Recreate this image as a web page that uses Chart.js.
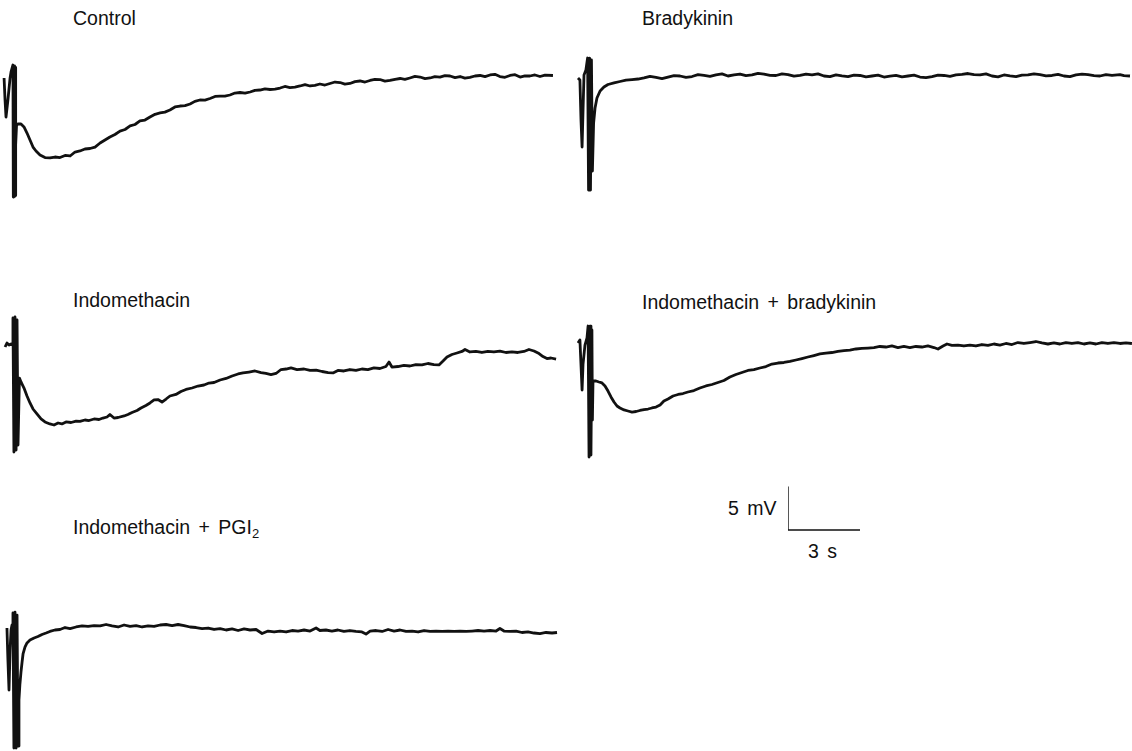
<!DOCTYPE html>
<html>
<head>
<meta charset="utf-8">
<script src="https://cdn.jsdelivr.net/npm/chart.js@4/dist/chart.umd.min.js"></script>
<style>
  body { margin: 0; background: #fff; width: 1132px; height: 751px; overflow: hidden; position: relative;
         font-family: "Liberation Sans", Arial, Helvetica, sans-serif; }
  canvas { position: absolute; }
  .label { position: absolute; font-size: 19.5px; color: #111; white-space: pre; line-height: 22px; word-spacing: 3px; }
  .label sub { font-size: 13px; vertical-align: -4px; line-height: 0; }
</style>
</head>
<body>
<div class="label" style="left:73px;top:7px">Control</div>
<div class="label" style="left:642px;top:7px">Bradykinin</div>
<div class="label" style="left:73px;top:289px">Indomethacin</div>
<div class="label" style="left:642px;top:291px">Indomethacin + bradykinin</div>
<div class="label" style="left:73px;top:516px">Indomethacin + PGI<sub>2</sub></div>
<div class="label" style="left:728px;top:497px">5 mV</div>
<div class="label" style="left:808px;top:540px">3 s</div>

<script>
// time in s, membrane potential in mV (relative to the resting level of each record)
var controlTime = [0.17,0.21,0.25,0.33,0.42,0.46,0.54,0.555,0.57,0.585,0.60,0.615,0.63,0.645,0.66,0.69,0.75,0.875,1.0,1.125,1.25,
  1.375,1.5,1.667,1.875,2.083,2.29,2.5,2.71,2.92,3.125,3.33,3.54,3.75,3.96,4.17,4.375,4.58,4.79,5.0,5.21,5.42,5.625,5.83,6.04,
  6.25,6.46,6.67,6.87,7.08,7.29,7.5,7.71,7.92,8.12,8.33,8.54,8.75,8.96,9.17,9.37,9.58,9.79,10.0,10.21,10.42,10.62,10.83,
  11.04,11.25,11.46,11.67,11.87,12.08,12.29,12.5,12.71,12.92,13.12,13.33,13.54,13.75,13.96,14.17,14.37,14.58,14.79,15.0,
  15.21,15.42,15.62,15.83,16.04,16.25,16.46,16.67,16.87,17.08,17.29,17.5,17.71,17.92,18.12,18.33,18.54,18.75,18.96,19.17,
  19.37,19.58,19.79,20.0,20.21,20.42,20.62,20.83,21.04,21.25,21.46,21.67,21.87,22.08,22.29,22.5,22.71,23.04];
var controlMv = [-0.23,-2.79,-4.77,-2.79,-0.23,0.47,1.28,-14.07,1.20,-14.0,1.16,-13.95,1.0,-13.9,-8.0,-5.70,-5.58,-5.58,-5.93,-6.63,-7.44,
  -8.26,-8.72,-9.19,-9.48,-9.53,-9.42,-9.48,-9.24,-9.30,-8.84,-8.72,-8.49,-8.43,-8.26,-7.79,-7.44,-7.09,-6.80,-6.40,-6.22,-5.81,-5.64,-5.23,-5.12,
  -4.77,-4.45,-4.30,-4.20,-3.95,-3.60,-3.49,-3.45,-3.26,-2.95,-2.79,-2.80,-2.62,-2.38,-2.33,-2.35,-2.21,-1.98,-1.92,-2.00,-1.86,-1.68,-1.63,
  -1.50,-1.57,-1.52,-1.40,-1.22,-1.34,-1.30,-1.16,-1.00,-1.16,-1.10,-0.93,-1.05,-0.87,-0.70,-0.76,-0.95,-0.87,-0.65,-0.58,
  -0.70,-0.52,-0.40,-0.41,-0.60,-0.52,-0.38,-0.29,-0.40,-0.23,-0.05,-0.12,-0.30,-0.23,-0.08,-0.12,0.05,0,-0.18,-0.06,
  -0.25,-0.17,0,0.06,-0.08,0.12,0.20,-0.06,-0.15,0.06,0.15,-0.12,0.02,0,0.12,-0.06,0.10,0.06];

var bradykininTime = [0.25,0.33,0.375,0.42,0.46,0.5,0.58,0.65,0.69,0.73,0.77,0.81,0.85,0.9,0.96,1.04,1.17,1.33,1.5,1.75,2.0,2.25,2.5,2.75,
  3.0,3.25,3.5,3.75,4.0,4.25,4.5,4.75,5.0,5.25,5.5,5.75,6.0,6.25,6.5,6.75,7.0,7.25,7.5,7.75,8.0,8.25,8.5,8.75,9.0,9.25,9.5,
  9.75,10.0,10.25,10.5,10.75,11.0,11.25,11.5,11.75,12.0,12.25,12.5,12.75,13.0,13.25,13.5,13.75,14.0,14.25,14.5,14.75,15.0,
  15.25,15.5,15.75,16.0,16.25,16.5,16.75,17.0,17.25,17.5,17.75,18.0,18.25,18.5,18.75,19.0,19.25,19.5,19.75,20.0,20.25,
  20.5,20.75,21.0,21.25,21.5,21.75,22.0,22.25,22.5,22.83,23.0,23.25];
var bradykininMv = [-0.23,-0.47,-5.10,-8.26,-3.95,0.12,0.70,2.09,-13.26,2.09,-13.26,1.86,-11.05,-5.47,-3.72,-2.56,-1.74,-1.28,-0.99,-0.81,-0.64,-0.47,-0.41,-0.35,
  -0.23,-0.05,-0.17,-0.30,-0.12,0.05,0,-0.15,-0.06,0.15,0.06,-0.05,0.12,0.25,0,0.12,0.23,0.05,0.12,0.30,0.23,0.08,0.06,0.25,0.17,-0.02,0.06,
  0.22,0.12,0.25,0,-0.08,0.12,0.02,-0.06,0.10,0.06,-0.10,0,0.10,-0.12,-0.02,0.06,-0.10,0,0.10,-0.12,-0.20,-0.06,
  0.10,0.06,-0.05,0.12,0.18,0.29,0.15,0.12,0.25,0,-0.10,0.12,0.02,-0.06,0.10,0.12,0.25,0.17,0.02,0.06,0.18,
  0,-0.08,0.12,0.22,0.17,0.05,0,0.15,0.06,0.17,0.05,0];

var indoTime = [0.21,0.29,0.375,0.46,0.52,0.54,0.58,0.625,0.67,0.71,0.75,0.81,0.875,1.0,1.125,1.25,1.375,1.54,1.71,1.875,2.08,2.25,
  2.42,2.58,2.75,2.96,3.17,3.33,3.54,3.71,3.92,4.125,4.29,4.46,4.58,4.75,4.92,5.17,5.33,5.5,5.71,5.875,6.08,6.25,6.42,6.58,
  6.75,6.92,7.08,7.33,7.54,7.75,8.0,8.25,8.5,8.71,8.92,9.17,9.42,9.67,9.92,10.125,10.375,10.625,10.875,11.08,11.29,11.5,
  11.71,11.92,12.125,12.375,12.67,12.92,13.17,13.42,13.67,13.875,14.08,14.33,14.58,14.83,15.08,15.33,15.58,15.83,16.08,
  16.21,16.33,16.58,16.83,17.08,17.33,17.58,17.83,18.08,18.29,18.46,18.625,18.83,19.04,19.25,19.375,19.58,19.83,20.08,
  20.33,20.58,20.83,21.08,21.33,21.58,21.83,22.04,22.25,22.46,22.625,22.79,22.96,23.17];
var indoMv = [0.35,0.81,0.58,0.70,0.58,3.72,-11.86,3.84,-11.63,3.49,-11.05,-3.26,-3.72,-4.42,-5.35,-6.16,-6.86,-7.44,-8.02,-8.37,-8.60,-8.72,
  -8.49,-8.60,-8.37,-8.43,-8.26,-8.31,-8.14,-8.20,-8.02,-8.08,-7.91,-7.79,-7.50,-7.91,-7.85,-7.67,-7.50,-7.27,-7.03,-6.74,-6.45,-6.16,-5.81,-5.76,
  -6.05,-5.70,-5.35,-5.17,-4.83,-4.59,-4.42,-4.19,-4.07,-3.84,-3.78,-3.49,-3.31,-3.02,-2.79,-2.67,-2.56,-2.44,-2.62,-2.73,-2.85,-2.73,
  -2.27,-2.21,-2.09,-2.27,-2.21,-2.38,-2.33,-2.50,-2.62,-2.67,-2.38,-2.44,-2.27,-2.38,-2.21,-2.27,-2.09,-2.15,-1.92,
  -1.40,-1.98,-1.92,-1.80,-1.86,-1.69,-1.74,-1.57,-1.69,-1.74,-1.28,-0.81,-0.52,-0.35,-0.17,0.06,-0.23,-0.17,-0.29,
  -0.17,-0.23,-0.12,-0.29,-0.23,-0.29,-0.17,0.06,-0.12,-0.41,-0.76,-0.99,-0.93,-1.05];

var indoBradyTime = [0.25,0.33,0.375,0.42,0.46,0.54,0.625,0.67,0.71,0.75,0.79,0.83,0.85,0.875,1.0,1.125,1.25,1.375,1.5,1.625,1.75,
  1.875,2.0,2.17,2.33,2.5,2.67,2.83,3.0,3.17,3.33,3.5,3.67,3.83,4.0,4.21,4.42,4.625,4.83,5.08,5.33,5.58,5.83,6.08,6.33,6.58,
  6.83,7.08,7.33,7.58,7.83,8.08,8.33,8.58,8.83,9.08,9.33,9.58,9.83,10.08,10.33,10.58,10.83,11.08,11.33,11.58,11.83,12.08,
  12.33,12.58,12.83,13.08,13.33,13.58,13.83,14.08,14.33,14.58,14.83,15.08,15.25,15.46,15.625,15.83,16.08,16.33,16.58,16.83,
  17.08,17.33,17.58,17.83,18.08,18.33,18.58,18.83,19.08,19.33,19.58,19.83,20.08,20.33,20.58,20.83,21.08,21.33,21.58,21.83,
  22.08,22.33,22.58,22.83,23.08,23.33];
var indoBradyMv = [0.12,0.47,-2.44,-5.35,-2.33,-0.12,0.70,2.09,-13.14,2.09,-12.91,1.63,-8.84,-4.30,-4.30,-4.42,-4.53,-4.88,-5.47,-6.16,-6.74,
  -7.21,-7.44,-7.67,-7.79,-7.91,-7.85,-7.73,-7.62,-7.56,-7.44,-7.33,-7.09,-6.63,-6.40,-6.05,-5.87,-5.76,-5.58,-5.41,-5.12,-4.88,-4.71,-4.48,-4.24,-3.84,
  -3.55,-3.31,-3.08,-2.97,-2.79,-2.62,-2.33,-2.21,-2.15,-2.03,-1.86,-1.69,-1.51,-1.34,-1.16,-1.05,-0.99,-0.87,-0.76,-0.70,-0.58,-0.52,
  -0.47,-0.41,-0.29,-0.35,-0.23,-0.41,-0.29,-0.41,-0.29,-0.35,-0.23,-0.41,-0.58,-0.23,0,-0.17,-0.12,-0.23,-0.12,-0.23,
  -0.06,-0.17,0,-0.12,0.06,-0.06,0.17,0.06,0.17,0.29,0.12,0,0.12,0,0.17,0.06,0.17,0,0.12,0,
  0.17,0.06,0.17,0.06,0.12,0.06];

var indoPgiTime = [0.29,0.33,0.375,0.42,0.46,0.5,0.54,0.58,0.625,0.67,0.71,0.75,0.79,0.83,0.875,0.92,0.96,1.04,1.125,1.25,1.42,1.58,
  1.75,1.92,2.08,2.29,2.5,2.71,2.92,3.17,3.42,3.67,3.92,4.17,4.42,4.67,4.92,5.17,5.42,5.67,5.92,6.17,6.42,6.67,6.92,7.17,
  7.42,7.67,7.92,8.17,8.42,8.67,8.92,9.17,9.42,9.67,9.92,10.17,10.42,10.67,10.92,11.17,11.42,11.67,11.92,12.17,12.42,
  12.67,12.92,13.17,13.33,13.58,13.83,14.08,14.33,14.58,14.83,15.08,15.25,15.42,15.67,15.92,16.17,16.42,16.67,16.92,
  17.17,17.42,17.67,17.92,18.17,18.42,18.67,18.92,19.17,19.42,19.67,19.92,20.17,20.42,20.67,20.83,21.0,21.25,21.5,
  21.75,22.0,22.25,22.5,22.75,23.0,23.21];
var indoPgiMv = [0.23,-3.49,-6.98,-2.33,0,0.58,1.98,-13.72,2.09,-13.72,1.74,-13.49,-8.14,-6.28,-4.88,-3.72,-2.79,-1.98,-1.51,-1.16,-0.93,-0.76,
  -0.52,-0.35,-0.17,0,0.06,0.29,0.17,0.35,0.47,0.41,0.52,0.47,0.64,0.47,0.35,0.58,0.41,0.52,0.35,0.47,0.41,0.58,0.64,0.52,
  0.64,0.52,0.35,0.29,0.17,0.23,0.06,0.17,0,0.12,-0.06,0.12,0,0.06,-0.41,-0.12,-0.23,-0.12,-0.23,-0.06,-0.12,
  0,-0.12,0.23,-0.06,0,-0.12,0,-0.17,-0.06,-0.17,-0.23,-0.47,-0.12,-0.06,-0.17,0.06,-0.12,0,-0.17,
  -0.12,-0.23,-0.06,-0.17,-0.12,-0.17,-0.12,-0.17,-0.12,-0.17,-0.12,-0.06,-0.12,-0.06,-0.12,0.17,-0.12,-0.17,-0.12,
  -0.29,-0.23,-0.35,-0.41,-0.29,-0.35,-0.29];

// calibration bar: 5 mV, 3 s
var scaleBarTime = [0, 0, 3];
var scaleBarMv = [5, 0, 0];

var PX_PER_S = 24;
var PX_PER_MV = 8.6;

function drawTrace(left, zeroY, width, above, below, times, mv, lineWidth) {
  var canvas = document.createElement('canvas');
  canvas.width = width;
  canvas.height = above + below;
  canvas.style.left = left + 'px';
  canvas.style.top = (zeroY - above) + 'px';
  document.body.appendChild(canvas);
  var pts = times.map(function (t, i) { return { x: t, y: mv[i] }; });
  return new Chart(canvas, {
    type: 'scatter',
    data: {
      datasets: [{
        data: pts,
        showLine: true,
        borderColor: '#111',
        borderWidth: lineWidth,
        borderJoinStyle: 'round',
        pointRadius: 0,
        tension: 0,
        clip: false
      }]
    },
    options: {
      responsive: false,
      animation: false,
      events: [],
      layout: { padding: 0 },
      plugins: { legend: { display: false }, tooltip: { enabled: false } },
      scales: {
        x: { type: 'linear', display: false, min: 0, max: width / PX_PER_S },
        y: { type: 'linear', display: false, min: -below / PX_PER_MV, max: above / PX_PER_MV }
      }
    }
  });
}

drawTrace(0, 76, 560, 40, 140, controlTime, controlMv, 2.8);
drawTrace(572, 76, 560, 40, 140, bradykininTime, bradykininMv, 2.8);
drawTrace(0, 350, 560, 40, 140, indoTime, indoMv, 2.8);
drawTrace(572, 344, 560, 40, 140, indoBradyTime, indoBradyMv, 2.8);
drawTrace(0, 630, 560, 40, 140, indoPgiTime, indoPgiMv, 2.8);
drawTrace(788, 529.5, 96, 60, 20, scaleBarTime, scaleBarMv, 1.4);
</script>
</body>
</html>
